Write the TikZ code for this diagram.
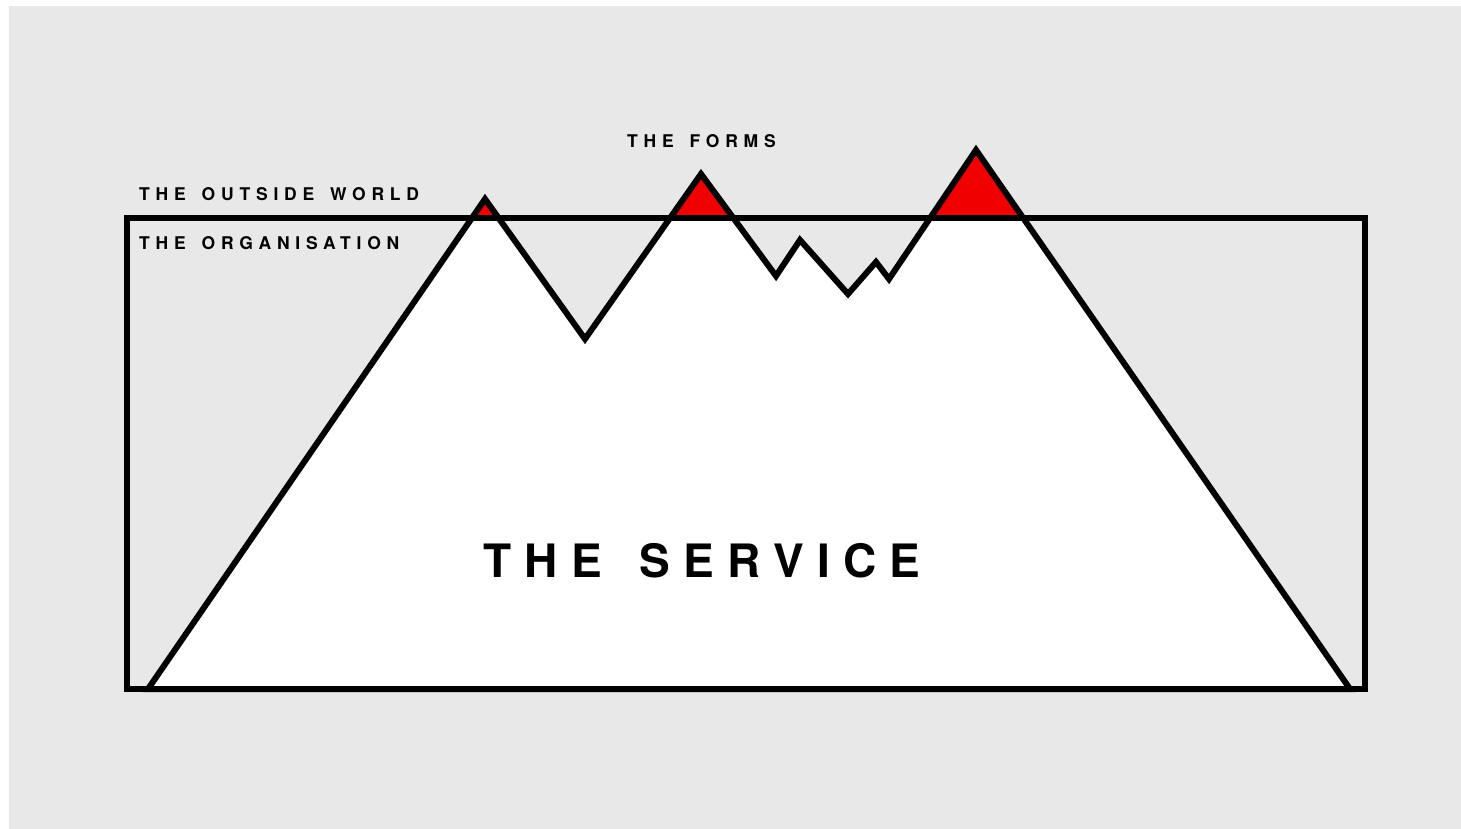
\documentclass[tikz,border=0pt]{standalone}
\usepackage{fontspec}
\setmainfont{TeX Gyre Heros}
\newfontfamily\capsfont[LetterSpace=33, WordSpace=1.5]{TeX Gyre Heros}
\newfontfamily\titlefont[LetterSpace=29, WordSpace=1.45]{TeX Gyre Heros}
\tikzset{
  bg/.style      ={fill=black!9, draw=none},
  frame/.style   ={draw=black, line width=6pt},
  ridge/.style   ={draw=black, line width=6pt, line join=miter},
  caption/.style ={font=\capsfont\bfseries\fontsize{17.5}{17.5}\selectfont,
                   anchor=west, inner sep=0pt, text=black},
  title/.style   ={font=\titlefont\bfseries\fontsize{46}{46}\selectfont,
                   anchor=west, inner sep=0pt, text=black},
}
\definecolor{peak}{RGB}{240,0,0}
\newcommand{\mountain}{(148,689) -- (485,199) -- (585,339) -- (701,174)
  -- (776,276) -- (800,240) -- (848,294) -- (876,262) -- (889,279)
  -- (976,150) -- (1350,689) -- cycle}

\begin{document}
\begin{tikzpicture}[x=1pt, y=-1pt]
  \useasboundingbox (0,0) rectangle (1461,829);
  \fill[white] (0,0) rectangle (1461,829);
  \path[bg] (9,6) rectangle (1461,829);

  % --- mountain: white below the line, red above ---------------------
  \fill[white] \mountain;
  \begin{scope}
    \clip (0,0) rectangle (1461,218);
    \fill[peak] \mountain;
  \end{scope}
  \path[ridge] \mountain;
  \path[frame] (127,218) rectangle (1365,689);

  % --- labels ---------------------------------------------------------
  \node[caption] (outside) at (139,194) {THE OUTSIDE WORLD};
  \node[caption] (org)     at (139,243) {THE ORGANISATION};
  \node[caption] (forms)   at (627,141) {THE FORMS};
  \node[title]   (service) at (483,561) {THE SERVICE};
\end{tikzpicture}
\end{document}
